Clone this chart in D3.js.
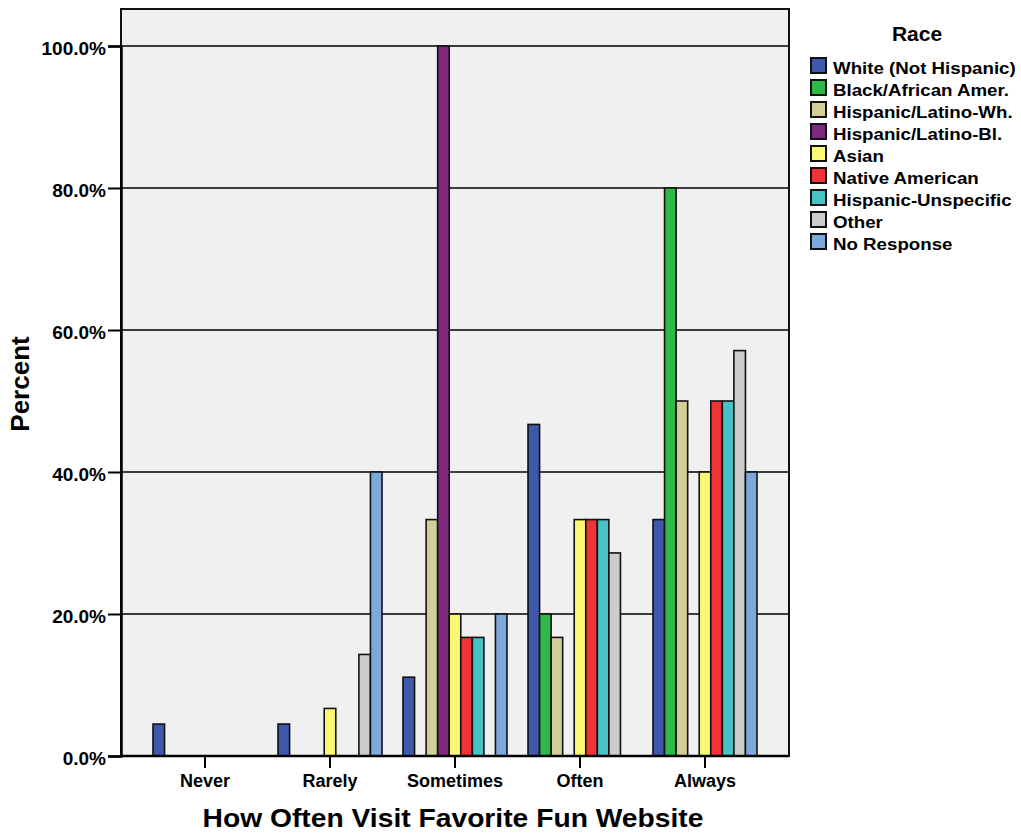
<!DOCTYPE html>
<html>
<head>
<meta charset="utf-8">
<script src="https://cdn.jsdelivr.net/npm/d3@7"></script>
<style>
  html, body { margin: 0; padding: 0; background: #ffffff; }
  svg { display: block; }
  text { font-family: "Liberation Sans", Arial, Helvetica, sans-serif; font-weight: bold; fill: #000; }
</style>
</head>
<body>
<svg id="chart" width="1021" height="836"></svg>
<script>
// ---- data ----
const categories = ["Never", "Rarely", "Sometimes", "Often", "Always"];
const seriesNames = ["White (Not Hispanic)", "Black/African Amer.", "Hispanic/Latino-Wh.", "Hispanic/Latino-Bl.", "Asian", "Native American", "Hispanic-Unspecific", "Other", "No Response"];
const whiteVals    = [4.5, 4.5, 11.1, 46.7, 33.3];
const blackVals    = [0, 0, 0, 20.0, 80.0];
const hispWhVals   = [0, 0, 33.3, 16.7, 50.0];
const hispBlVals   = [0, 0, 100.0, 0, 0];
const asianVals    = [0, 6.7, 20.0, 33.3, 40.0];
const nativeVals   = [0, 0, 16.7, 33.3, 50.0];
const hispUnVals   = [0, 0, 16.7, 33.3, 50.0];
const otherVals    = [0, 14.3, 0, 28.6, 57.1];
const noRespVals   = [0, 40.0, 20.0, 0, 40.0];
const yTicks = [0, 20, 40, 60, 80, 100];
const colors = ["#3e58ac", "#2eb848", "#d3ce97", "#7c287d", "#fbf873", "#ef3338", "#48c2c5", "#cccccc", "#7ba9d9"];

const allVals = [whiteVals, blackVals, hispWhVals, hispBlVals, asianVals, nativeVals, hispUnVals, otherVals, noRespVals];

// ---- layout ----
const svg = d3.select("#chart");
const plot = { left: 121, right: 789, top: 9, bottom: 756 };

const x0 = d3.scaleBand().domain(categories).range([plot.left, plot.right])
  .paddingInner(0.168).paddingOuter(0.256);
const x1 = d3.scaleBand().domain(seriesNames).range([0, x0.bandwidth()]).padding(0);
const y = d3.scaleLinear().domain([0, 100]).range([plot.bottom, plot.bottom - 710]);

// background
svg.append("rect")
  .attr("x", plot.left).attr("y", plot.top)
  .attr("width", plot.right - plot.left).attr("height", plot.bottom - plot.top)
  .attr("fill", "#f0f0f0").attr("stroke", "none");

// gridlines
svg.append("g").selectAll("line").data(yTicks.filter(d => d > 0)).join("line")
  .attr("x1", plot.left).attr("x2", plot.right)
  .attr("y1", d => y(d)).attr("y2", d => y(d))
  .attr("stroke", "#000").attr("stroke-width", 1.6);

// bars
const rows = [];
seriesNames.forEach((s, si) => {
  categories.forEach((c, ci) => {
    const v = allVals[si][ci];
    if (v > 0) rows.push({ s, c, v, color: colors[si] });
  });
});
svg.append("g").selectAll("rect").data(rows).join("rect")
  .attr("x", d => x0(d.c) + x1(d.s))
  .attr("y", d => y(d.v))
  .attr("width", x1.bandwidth())
  .attr("height", d => y(0) - y(d.v))
  .attr("fill", d => d.color)
  .attr("stroke", "#111").attr("stroke-width", 1.6);

// frame
svg.append("rect")
  .attr("x", plot.left).attr("y", plot.top)
  .attr("width", plot.right - plot.left).attr("height", plot.bottom - plot.top)
  .attr("fill", "none").attr("stroke", "#111").attr("stroke-width", 2);

// y axis
const yAxis = d3.axisLeft(y).tickValues(yTicks).tickSize(13).tickPadding(2)
  .tickFormat(d => d3.format(".1f")(d) + "%");
const gy = svg.append("g").attr("transform", `translate(${plot.left},0)`).call(yAxis);
gy.select(".domain").attr("stroke", "#000").attr("stroke-width", 2.5);
gy.selectAll(".tick line").attr("stroke", "#000").attr("stroke-width", 2);
gy.selectAll(".tick text").attr("font-size", 19).attr("font-family", null).attr("dy", "0.45em");

// x axis
const xAxis = d3.axisBottom(x0).tickSize(12).tickPadding(5);
const gx = svg.append("g").attr("transform", `translate(0,${plot.bottom})`).call(xAxis);
gx.select(".domain").attr("stroke", "#000").attr("stroke-width", 2.5)
  .attr("d", `M${plot.left},0H${plot.right}`);
gx.selectAll(".tick line").attr("stroke", "#000").attr("stroke-width", 2);
gx.selectAll(".tick text").attr("font-size", 18).attr("font-family", null).attr("dy", "0.78em");

// axis titles
svg.append("text")
  .attr("transform", `translate(453,827) scale(1.13,1)`)
  .attr("text-anchor", "middle").attr("font-size", 25)
  .text("How Often Visit Favorite Fun Website");

svg.append("text")
  .attr("transform", `translate(29,384) rotate(-90)`)
  .attr("text-anchor", "middle").attr("font-size", 26)
  .text("Percent");

// legend
svg.append("text").attr("x", 917).attr("y", 41).attr("text-anchor", "middle")
  .attr("font-size", 21).text("Race");
const leg = svg.append("g").selectAll("g").data(seriesNames).join("g")
  .attr("transform", (d, i) => `translate(811,${58 + i * 22})`);
leg.append("rect").attr("width", 15).attr("height", 15)
  .attr("fill", (d, i) => colors[i]).attr("stroke", "#111").attr("stroke-width", 2);
leg.append("text")
  .attr("transform", "translate(22,16) scale(1.1,1)")
  .attr("font-size", 17).text(d => d);
</script>
</body>
</html>
